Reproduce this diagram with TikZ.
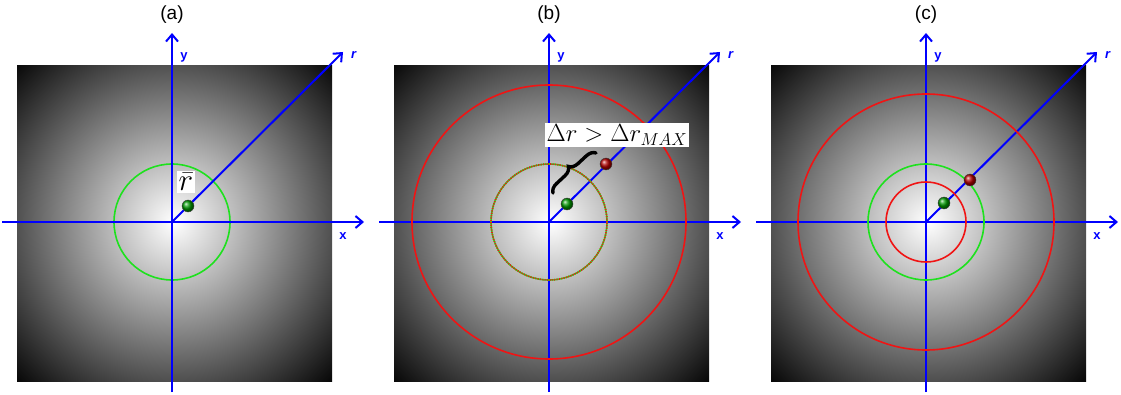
\documentclass[tikz,border=0pt]{standalone}
\usepackage{fontspec}
\setmainfont{Liberation Sans}
\usetikzlibrary{arrows.meta,positioning,decorations.pathreplacing}
\definecolor{lime}{RGB}{30,225,30}
\definecolor{ringred}{RGB}{240,20,20}

\begin{document}
\begin{tikzpicture}[x=1pt,y=1pt,>={Straight Barb[length=7pt,width=12pt]},
  ax/.style={blue,line width=2pt,->},
  lbl/.style={text=blue,font=\fontsize{13}{15}\selectfont\bfseries},
  ttl/.style={font=\fontsize{19}{21}\selectfont},
  ring/.style={line width=1.6pt},
  ball/.style={circle,shade,inner sep=0pt,minimum size=12pt,draw=black!75,line width=0.4pt},
  tag/.style={fill=white,inner sep=1.2pt,scale=1.2,font=\fontsize{20.74}{24}\selectfont}]
  \useasboundingbox (0,0) rectangle (1121,394);
  % the three frames: shaded square, axes and their labels
  \foreach \n/\cx in {a/172,b/549,c/926}{
    \begin{scope}
      \clip (\cx-155,13) rectangle (\cx+160,328);
      \shade[inner color=white,outer color=black] (\cx+2,172) circle (230);
    \end{scope}
    \coordinate (o\n) at (\cx,172);
    \coordinate (w\n) at (\cx-170,172);
    \coordinate (e\n) at (\cx+192,172);
    \coordinate (s\n) at (\cx,2);
    \coordinate (t\n) at (\cx,361);
    \coordinate (d\n) at (\cx+171,342);
    \node[ttl] (ttl\n) at (\cx,379) {(\n)};
    \node[lbl] (x\n) at (\cx+171,158) {x};
    \node[lbl] (y\n) at (\cx+12,337) {y};
    \node[lbl] (r\n) at (\cx+182,339) {\textit{r}};
  }
  % (a)
  \draw[ring,lime] (oa) circle (58);
  \foreach \n in {a,b,c}{
    \draw[ax] (w\n) -- (e\n);
    \draw[ax] (s\n) -- (t\n);
    \draw[ax] (o\n) -- (d\n);
  }
  \node[ball,ball color=green!60!black] (ga) at (188,188) {};
  \node[tag,scale=1.25] (rbar) at (186,212) {$\bar r$};
  % (b)
  \draw[ring,ringred] (ob) circle (137);
  \draw[ring,lime] (ob) circle (58);
  \draw[ring,ringred,dash pattern=on 1.2pt off 1.2pt] (ob) circle (58);
  \node[ball,ball color=green!60!black] (gb) at (567,190) {};
  \node[ball,ball color=red!70!black] (rb) at (606,230) {};
  \node[tag] (dr) at (617,259) {$\Delta r > \Delta r_{MAX}$};
  \coordinate (bl) at (553,201);
  \coordinate (bu) at (596,241);
  \draw[line width=3.4pt,line cap=round,decorate,decoration={brace,amplitude=9pt}] (bl) -- (bu);
  % (c)
  \draw[ring,ringred] (oc) circle (128);
  \draw[ring,lime] (oc) circle (58);
  \draw[ring,ringred] (oc) circle (40);
  \node[ball,ball color=green!60!black] (gc) at (944,191) {};
  \node[ball,ball color=red!70!black] (rc) at (970,214) {};
\end{tikzpicture}
\end{document}
